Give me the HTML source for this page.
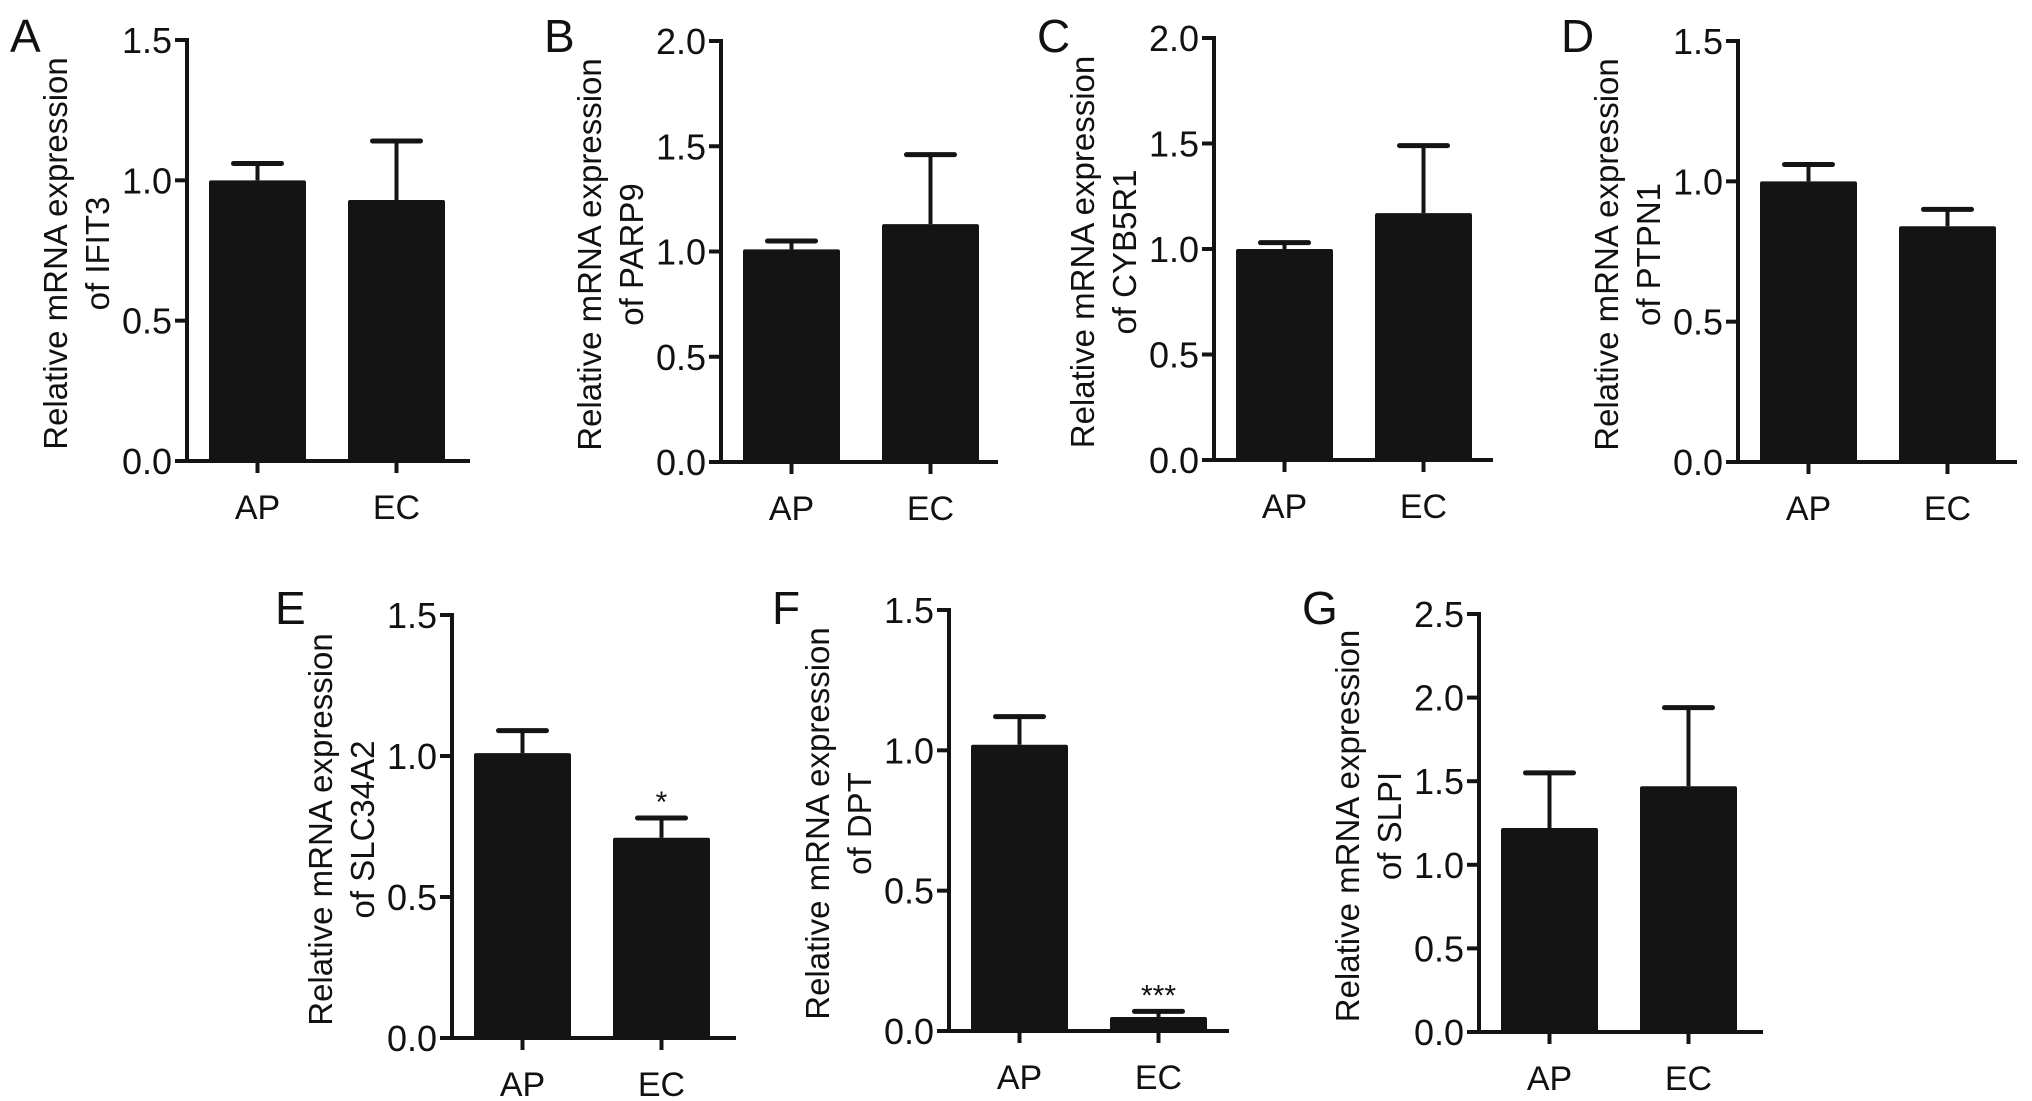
<!DOCTYPE html>
<html><head><meta charset="utf-8"><style>
html,body{margin:0;padding:0;background:#fff;}
svg{display:block;font-family:"Liberation Sans",Arial,sans-serif;}
</style></head><body>
<svg id="fig" width="2032" height="1101" viewBox="0 0 2032 1101" xmlns="http://www.w3.org/2000/svg"></svg>
<script>
const categories = ["AP","EC"];
const panelLetters = ["A","B","C","D","E","F","G"];
const genes = ["IFIT3","PARP9","CYB5R1","PTPN1","SLC34A2","DPT","SLPI"];
const meansAP = [1.00,1.01,1.00,1.00,1.01,1.02,1.22];
const meansEC = [0.93,1.13,1.17,0.84,0.71,0.05,1.47];
const errAP = [1.06,1.05,1.03,1.06,1.09,1.12,1.55];
const errEC = [1.14,1.46,1.49,0.90,0.78,0.07,1.94];
const yMax = [1.5,2.0,2.0,1.5,1.5,1.5,2.5];
const signifEC = ["","","","","*","***",""];
const layout = [
 {ax:187,top:40,zero:461,xend:470,ly:52},
 {ax:721,top:41,zero:462,xend:998,ly:52},
 {ax:1214,top:38,zero:460,xend:1493,ly:52},
 {ax:1738,top:41,zero:462,xend:2017,ly:52},
 {ax:452,top:615,zero:1038,xend:736,ly:624},
 {ax:949,top:610,zero:1031,xend:1229,ly:624},
 {ax:1479,top:614,zero:1032,xend:1763,ly:624}
];
const NS="http://www.w3.org/2000/svg";
const svg=document.getElementById('fig');
function mk(tag,attrs,parent){const e=document.createElementNS(NS,tag);for(const k in attrs)e.setAttribute(k,attrs[k]);(parent||svg).appendChild(e);return e;}
layout.forEach((L,i)=>{
  const g=mk('g',{});
  
  
  const y=v=>L.zero-(v/yMax[i])*(L.zero-L.top);
  const barW=97, off=22, gap=42;
  const bx=k=>L.ax+off+k*(barW+gap);
  const lt=mk('text',{x:L.ax-177,y:L.ly,'font-size':46,fill:'#111'},g);lt.textContent=panelLetters[i];
  
  
  const means=[meansAP[i],meansEC[i]], errs=[errAP[i],errEC[i]];
  categories.forEach((c,k)=>{
    const cx=bx(k)+barW/2;
    const el=mk('line',{x1:cx,x2:cx,y1:y(means[k]),y2:y(errs[k]),stroke:'#141414','stroke-width':4},g);
    
    
    const cap=mk('line',{x1:cx-24,x2:cx+24,y1:y(errs[k]),y2:y(errs[k]),stroke:'#141414','stroke-width':5,'stroke-linecap':'round'},g);
    
    
    const r=mk('rect',{x:bx(k),y:y(means[k]),width:barW,height:L.zero-y(means[k]),fill:'#141414',rx:2},g);
    
    
    const tk=mk('line',{x1:cx,x2:cx,y1:L.zero,y2:L.zero+12,stroke:'#141414','stroke-width':4},g);
    
    
    const lb=mk('text',{x:cx,y:L.zero+58,'font-size':34,'text-anchor':'middle',fill:'#111'},g);lb.textContent=c;
    
    
  });
  if(signifEC[i]){
    const s=mk('text',{x:bx(1)+barW/2,y:y(errEC[i])-6,'font-size':30,'text-anchor':'middle',fill:'#111'},g);s.textContent=signifEC[i];
    
    
  }
  const ya=mk('line',{x1:L.ax,x2:L.ax,y1:L.top-2,y2:L.zero+2,stroke:'#141414','stroke-width':4},g);
  
  
  const xa=mk('line',{x1:L.ax-12,x2:L.xend,y1:L.zero,y2:L.zero,stroke:'#141414','stroke-width':4},g);
  
  
  for(let v=0;v<=yMax[i]+1e-9;v+=0.5){
    const t=mk('line',{x1:L.ax-12,x2:L.ax,y1:y(v),y2:y(v),stroke:'#141414','stroke-width':4},g);
    
    
    const tl=mk('text',{x:L.ax-15,y:y(v)+13,'font-size':36,'text-anchor':'end',fill:'#111'},g);tl.textContent=v.toFixed(1);
    
    
  }
  const mid=(L.top+L.zero)/2+3;
  const t1=mk('text',{x:0,y:0,'font-size':33,'text-anchor':'middle',fill:'#111',transform:`translate(${L.ax-120},${mid}) rotate(-90)`},g);
  t1.textContent='Relative mRNA expression';
  
  
  const t2=mk('text',{x:0,y:0,'font-size':33,'text-anchor':'middle',fill:'#111',transform:`translate(${L.ax-78},${mid}) rotate(-90)`},g);
  t2.textContent='of '+genes[i];
  
  
});
</script>
</body></html>
